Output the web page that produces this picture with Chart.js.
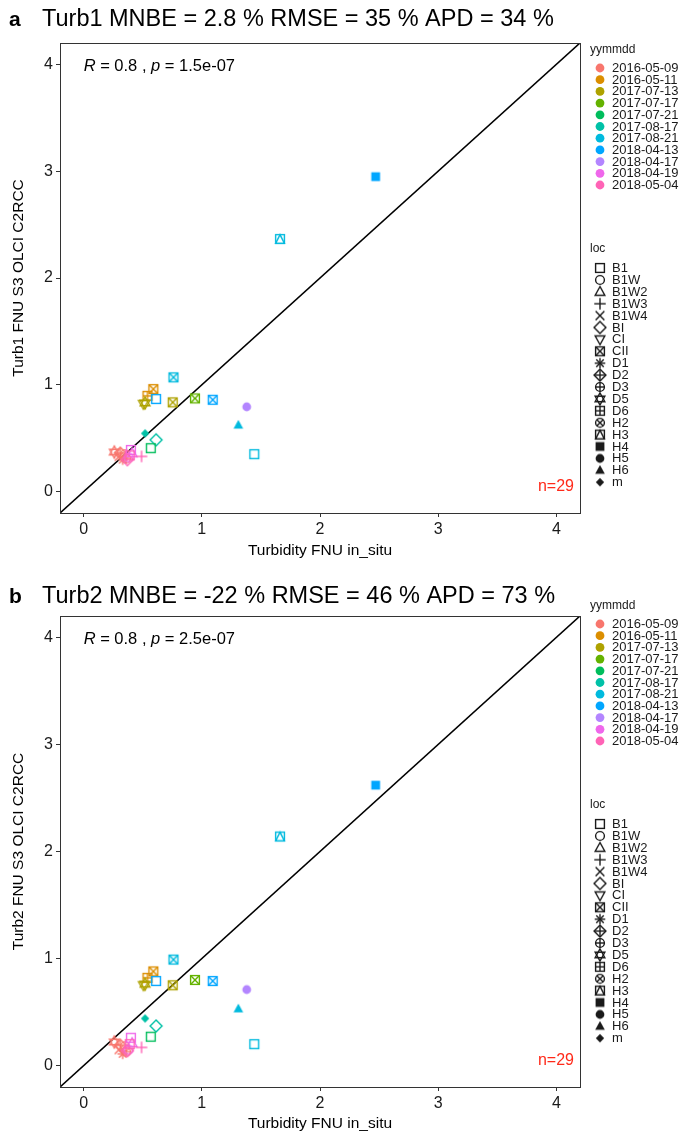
<!DOCTYPE html>
<html>
<head>
<meta charset="utf-8">
<script src="https://cdn.jsdelivr.net/npm/chart.js@4.4.0/dist/chart.umd.min.js"></script>
<style>
  body { margin: 0; background: #fff; }
  .panel { position: absolute; left: 0; width: 689px; }
</style>
</head>
<body>
<div class="panel" style="top:0"><canvas id="chartA" width="689" height="566"></canvas></div>
<div class="panel" style="top:566px"><canvas id="chartB" width="689" height="567"></canvas></div>
<script>
// ------------------ DATA ------------------ //
const dates = ["2016-05-09", "2016-05-11", "2017-07-13", "2017-07-17", "2017-07-21", "2017-08-17",
  "2017-08-21", "2018-04-13", "2018-04-17", "2018-04-19", "2018-05-04"];
const dateColors = ["#F8766D", "#DB8E00", "#AEA200", "#64B200", "#00BD5C", "#00C1A7",
  "#00BADE", "#00A6FF", "#B385FF", "#EF67EB", "#FF63B6"];
const locs = ["B1", "B1W", "B1W2", "B1W3", "B1W4", "BI", "CI", "CII", "D1", "D2", "D3",
  "D5", "D6", "H2", "H3", "H4", "H5", "H6", "m"];

// one entry per sample
const ptDate = ["2017-08-21", "2016-05-11", "2016-05-11", "2017-07-13", "2017-07-13", "2018-04-13",
  "2017-07-13", "2017-07-17", "2018-04-13", "2018-04-17", "2017-08-21", "2017-08-21",
  "2017-08-17", "2017-08-17", "2017-07-21", "2018-04-13", "2017-08-21",
  "2016-05-09", "2016-05-09", "2016-05-09", "2016-05-09", "2016-05-09", "2016-05-09",
  "2018-04-19", "2018-04-19", "2018-04-19", "2018-05-04", "2018-05-04", "2018-05-04"];
const ptLoc = ["CII", "CII", "D6", "CI", "D5", "B1",
  "CII", "CII", "CII", "H5", "H6", "B1",
  "m", "BI", "B1", "H4", "H3",
  "D5", "B1W4", "D1", "B1W", "D2", "D3",
  "B1", "B1W", "B1W2", "B1W3", "B1", "BI"];
const inSitu = [0.76, 0.59, 0.54, 0.505, 0.52, 0.613,
  0.754, 0.942, 1.092, 1.38, 1.309, 1.444,
  0.52, 0.613, 0.568, 2.471, 1.662,
  0.26, 0.30, 0.33, 0.35, 0.31, 0.36,
  0.40, 0.38, 0.41, 0.49, 0.39, 0.37];
const turb1 = [1.07, 0.96, 0.897, 0.82, 0.83, 0.867,
  0.836, 0.873, 0.86, 0.794, 0.623, 0.351,
  0.545, 0.485, 0.407, 2.949, 2.365,
  0.37, 0.33, 0.30, 0.35, 0.36, 0.31,
  0.39, 0.32, 0.36, 0.33, 0.34, 0.30];
const turb2 = [0.99, 0.88, 0.82, 0.75, 0.76, 0.79,
  0.75, 0.80, 0.79, 0.71, 0.53, 0.20,
  0.44, 0.37, 0.27, 2.62, 2.14,
  0.22, 0.15, 0.11, 0.18, 0.19, 0.13,
  0.26, 0.15, 0.21, 0.17, 0.20, 0.14];

const axisRange = [-0.2, 4.2];
const tickValues = [0, 1, 2, 3, 4];

// ------------------ SYMBOLS (ggplot shapes 0-18) ------------------ //
function makeSymbol(shapeIdx, color) {
  const c = document.createElement("canvas");
  c.width = 16; c.height = 16;
  const g = c.getContext("2d");
  const m = 8, s = 4.4;
  g.strokeStyle = color; g.fillStyle = color; g.lineWidth = 1.4;
  const line = (x1, y1, x2, y2) => { g.beginPath(); g.moveTo(m + x1, m + y1); g.lineTo(m + x2, m + y2); g.stroke(); };
  const poly = (pts, fill) => {
    g.beginPath();
    pts.forEach((p, i) => i ? g.lineTo(m + p[0], m + p[1]) : g.moveTo(m + p[0], m + p[1]));
    g.closePath();
    fill ? g.fill() : g.stroke();
  };
  const sq = () => g.strokeRect(m - s, m - s, 2 * s, 2 * s);
  const circ = (r, fill) => { g.beginPath(); g.arc(m, m, r, 0, Math.PI * 2); fill ? g.fill() : g.stroke(); };
  const triUp = [[0, -s * 1.2], [-s * 1.1, s * 0.8], [s * 1.1, s * 0.8]];
  const triDn = [[0, s * 1.2], [-s * 1.1, -s * 0.8], [s * 1.1, -s * 0.8]];
  const dia = [[0, -s * 1.35], [s * 1.35, 0], [0, s * 1.35], [-s * 1.35, 0]];
  const plus = r => { line(-r, 0, r, 0); line(0, -r, 0, r); };
  const ex = r => { line(-r, -r, r, r); line(-r, r, r, -r); };
  switch (shapeIdx) {
    case 0: sq(); break;
    case 1: circ(s); break;
    case 2: poly(triUp); break;
    case 3: plus(s * 1.3); break;
    case 4: ex(s); break;
    case 5: poly(dia); break;
    case 6: poly(triDn); break;
    case 7: sq(); ex(s); break;
    case 8: plus(s * 1.2); ex(s * 0.85); break;
    case 9: poly(dia); plus(s * 1.35); break;
    case 10: circ(s); plus(s); break;
    case 11: poly(triUp.map(p => [p[0], p[1] - 0.8])); poly(triDn.map(p => [p[0], p[1] + 0.8])); break;
    case 12: sq(); plus(s); break;
    case 13: circ(s); ex(s * 0.7); break;
    case 14: sq(); poly([[0, -s], [-s, s], [s, s]]); break;
    case 15: g.fillRect(m - s, m - s, 2 * s, 2 * s); break;
    case 16: circ(s, true); break;
    case 17: poly(triUp, true); break;
    case 18: poly(dia.map(p => [p[0] * 0.7, p[1] * 0.7]), true); break;
  }
  return c;
}

const pointStyles = ptLoc.map((l, i) =>
  makeSymbol(locs.indexOf(l), dateColors[dates.indexOf(ptDate[i])]));
const legendSymbols = locs.map((l, i) => makeSymbol(i, "#1a1a1a"));

// ------------------ PLUGINS ------------------ //
const FONT = "'Liberation Sans', Arial, sans-serif";

const framePlugin = {
  id: "frame",
  afterDraw(chart) {
    const { ctx, chartArea: a } = chart;
    ctx.save();
    ctx.strokeStyle = "#333";
    ctx.lineWidth = 1;
    ctx.strokeRect(a.left + 0.5, a.top + 0.5, a.right - a.left, a.bottom - a.top);
    ctx.restore();
  }
};

const textPlugin = {
  id: "texts",
  afterDraw(chart, args, opts) {
    const { ctx, chartArea: a } = chart;
    ctx.save();
    ctx.textBaseline = "middle";
    // panel letter and title
    ctx.fillStyle = "#000";
    ctx.font = "bold 21px " + FONT;
    ctx.fillText(opts.letter, 9, opts.titleY);
    ctx.font = "23.5px " + FONT;
    ctx.fillText(opts.title, 42, opts.titleY);

    // R , p annotation (italic letters)
    let x = chart.scales.x.getPixelForValue(0);
    const y = a.top + 23;
    const parts = [["R", true], [" = " + opts.r + " , ", false], ["p", true], [" = " + opts.p, false]];
    parts.forEach(([t, it]) => {
      ctx.font = (it ? "italic " : "") + "16.5px " + FONT;
      ctx.fillText(t, x, y);
      x += ctx.measureText(t).width;
    });

    // n label
    ctx.fillStyle = "#FF2A1A";
    ctx.font = "16px " + FONT;
    ctx.textAlign = "right";
    ctx.fillText(opts.n, a.right - 6, a.bottom - 26);

    // legend: dates
    ctx.textAlign = "left";
    ctx.fillStyle = "#1a1a1a";
    const lx = a.right + 10;
    let ly = opts.legendY;
    ctx.font = "12px " + FONT;
    ctx.fillText("yymmdd", lx, ly);
    ly += 18;
    ctx.font = "13px " + FONT;
    dates.forEach((d, i) => {
      ctx.fillStyle = dateColors[i];
      ctx.beginPath();
      ctx.arc(lx + 10, ly, 4.4, 0, Math.PI * 2);
      ctx.fill();
      ctx.fillStyle = "#1a1a1a";
      ctx.fillText(d, lx + 22, ly + 0.5);
      ly += 11.7;
    });
    // legend: locations
    ly = opts.legendY + 199;
    ctx.font = "12px " + FONT;
    ctx.fillText("loc", lx, ly);
    ly += 19;
    ctx.font = "13px " + FONT;
    locs.forEach((l, i) => {
      ctx.drawImage(legendSymbols[i], lx + 2, ly - 8);
      ctx.fillText(l, lx + 22, ly + 0.5);
      ly += 11.9;
    });
    ctx.restore();
  }
};

// ------------------ CHARTS ------------------ //
function makeChart(canvasId, yValues, cfg) {
  const points = inSitu.map((v, i) => ({ x: v, y: yValues[i] }));
  const axisCommon = {
    type: "linear",
    min: axisRange[0],
    max: axisRange[1],
    afterBuildTicks: s => { s.ticks = tickValues.map(v => ({ value: v })); },
    grid: { drawOnChartArea: false, drawTicks: true, tickLength: 4, color: "#333", lineWidth: 1 },
    border: { display: true, color: "#333", width: 1 },
    ticks: { color: "#1a1a1a", font: { family: FONT, size: 16 }, padding: 3 }
  };
  return new Chart(document.getElementById(canvasId), {
    type: "scatter",
    data: {
      datasets: [
        {
          label: "samples",
          data: points,
          pointStyle: pointStyles,
          pointRadius: 5,
          order: 1
        },
        {
          type: "line",
          label: "1:1",
          data: axisRange.map(v => ({ x: v, y: v })),
          borderColor: "#000",
          borderWidth: 1.6,
          pointRadius: 0,
          order: 2
        }
      ]
    },
    options: {
      responsive: false,
      animation: false,
      events: [],
      layout: { padding: { top: cfg.top, right: 109, left: 0, bottom: 0 } },
      plugins: {
        legend: { display: false },
        tooltip: { enabled: false },
        texts: cfg
      },
      scales: {
        x: {
          ...axisCommon,
          afterFit: s => { s.height = cfg.xHeight; },
          title: { display: true, text: "Turbidity FNU in_situ", color: "#000",
            font: { family: FONT, size: 15.5 }, padding: { top: 0, bottom: cfg.xTitlePad } }
        },
        y: {
          ...axisCommon,
          afterFit: s => { s.width = 60; },
          title: { display: true, text: cfg.yTitle, color: "#000",
            font: { family: FONT, size: 15.5 }, padding: { top: 9, bottom: 0 } }
        }
      }
    },
    plugins: [framePlugin, textPlugin]
  });
}

makeChart("chartA", turb1, {
  letter: "a", title: "Turb1 MNBE = 2.8 % RMSE = 35 % APD = 34 %", titleY: 20,
  yTitle: "Turb1 FNU S3 OLCI C2RCC", r: "0.8", p: "1.5e-07", n: "n=29",
  top: 43, xHeight: 53, xTitlePad: 6, legendY: 50
});
makeChart("chartB", turb2, {
  letter: "b", title: "Turb2 MNBE = -22 % RMSE = 46 % APD = 73 %", titleY: 31,
  yTitle: "Turb2 FNU S3 OLCI C2RCC", r: "0.8", p: "2.5e-07", n: "n=29",
  top: 50, xHeight: 46, xTitlePad: 0, legendY: 40
});
</script>
</body>
</html>
